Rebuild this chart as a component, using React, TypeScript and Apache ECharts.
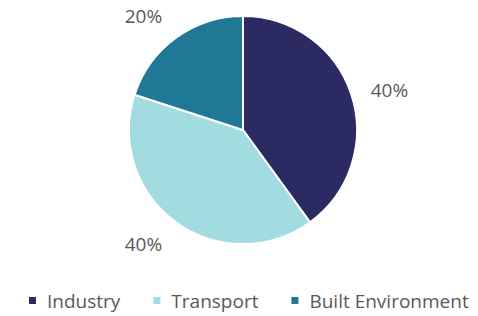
import React, { useEffect, useRef } from "react";
import * as echarts from "echarts";

const categories = ["Industry", "Transport", "Built Environment"];
const values = [40, 40, 20];
const colors = ["#2b2a63", "#a2dce1", "#1f7896"];

export default function App() {
  const ref = useRef<HTMLDivElement>(null);
  useEffect(() => {
    document.body.style.margin = "0";
    const chart = echarts.init(ref.current!, null, { renderer: "svg" });
    const cy = 130;
    chart.setOption({
      animation: false,
      color: colors,
      legend: {
        bottom: 1,
        left: 27,
        width: 451,
        padding: [5, 0, 5, 0],
        itemWidth: 9,
        itemHeight: 9,
        itemGap: 31,
        icon: "rect",
        textStyle: { fontFamily: "Open Sans", fontSize: 19, color: "#595959", padding: [0, 0, 0, 5] },
        data: categories,
      },
      series: [
        {
          type: "pie",
          center: [243, cy],
          radius: 114,
          startAngle: 90,
          clockwise: true,
          itemStyle: { borderColor: "#ffffff", borderWidth: 2 },
          label: {
            show: true,
            position: "outside",
            formatter: "{d}%",
            fontFamily: "Open Sans",
            fontSize: 19,
            color: "#595959",
          },
          labelLine: { show: false, length: 15, length2: 0 },
          labelLayout: (p: any) => {
            const mid = p.labelRect.y + p.labelRect.height / 2;
            const rel = mid - cy;
            if (rel < -70) return { verticalAlign: "bottom" };
            if (rel > 70) return { verticalAlign: "top" };
            return {};
          },
          data: categories.map((c, i) => ({ name: c, value: values[i] })),
        },
      ],
    });
    return () => chart.dispose();
  }, []);
  return <div ref={ref} style={{ width: 478, height: 316 }} />;
}
